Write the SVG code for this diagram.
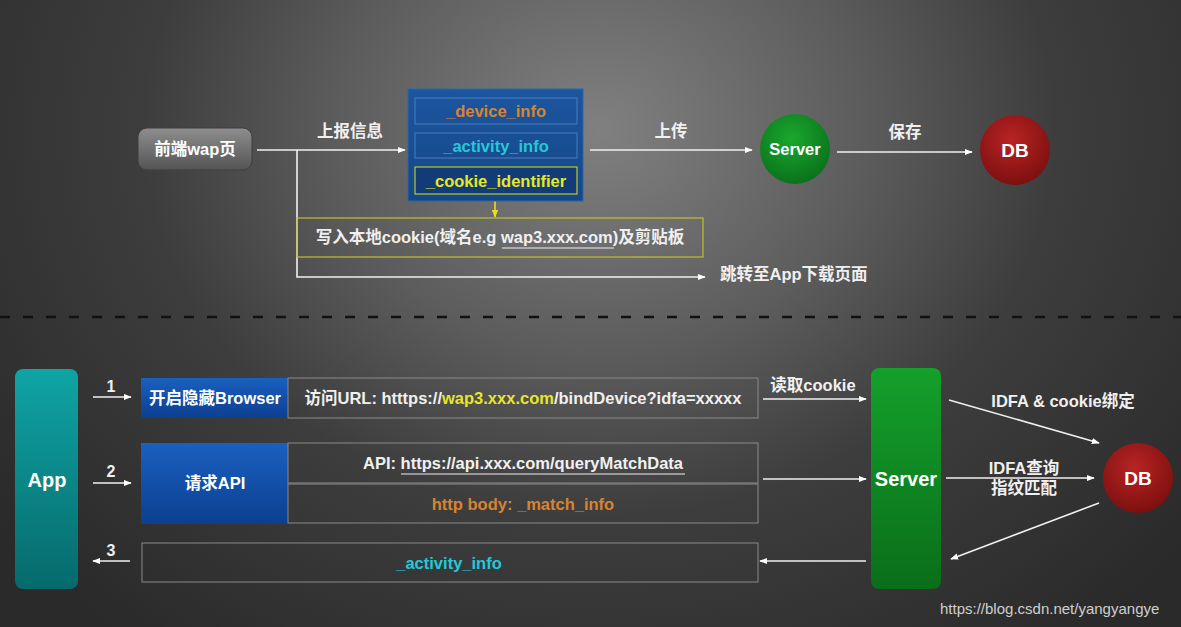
<svg xmlns="http://www.w3.org/2000/svg" width="1181" height="627" viewBox="0 0 1181 627">
<defs>
<radialGradient id="bg" gradientUnits="userSpaceOnUse" cx="600" cy="130" r="760" gradientTransform="translate(600 130) scale(1 0.85) translate(-600 -130)">
<stop offset="0" stop-color="#808080"/>
<stop offset="0.35" stop-color="#5c5c5c"/>
<stop offset="0.6" stop-color="#3d3d3d"/>
<stop offset="1" stop-color="#2a2a2a"/>
</radialGradient>
<linearGradient id="gray" x1="0" y1="0" x2="0" y2="1">
<stop offset="0" stop-color="#8e8e8e"/>
<stop offset="1" stop-color="#545454"/>
</linearGradient>
<linearGradient id="blue" x1="0" y1="0" x2="0" y2="1">
<stop offset="0" stop-color="#1a60c0"/>
<stop offset="1" stop-color="#0c3f90"/>
</linearGradient>
<linearGradient id="bluebox" x1="0" y1="0" x2="0" y2="1">
<stop offset="0" stop-color="#1c56a0"/>
<stop offset="1" stop-color="#154785"/>
</linearGradient>
<linearGradient id="teal" x1="0" y1="0" x2="0" y2="1">
<stop offset="0" stop-color="#10a4a4"/>
<stop offset="1" stop-color="#066a6c"/>
</linearGradient>
<linearGradient id="green" x1="0" y1="0" x2="0" y2="1">
<stop offset="0" stop-color="#14a02a"/>
<stop offset="1" stop-color="#0a6e1a"/>
</linearGradient>
<radialGradient id="gcirc" cx="0.45" cy="0.35" r="0.7">
<stop offset="0" stop-color="#1aa82e"/>
<stop offset="1" stop-color="#0a6e1a"/>
</radialGradient>
<radialGradient id="rcirc" cx="0.45" cy="0.35" r="0.7">
<stop offset="0" stop-color="#b82424"/>
<stop offset="1" stop-color="#7a0e0e"/>
</radialGradient>
<marker id="ah" viewBox="0 0 10 10" refX="9" refY="5" markerWidth="8" markerHeight="8" markerUnits="userSpaceOnUse" orient="auto">
<path d="M0,1 L10,5 L0,9 z" fill="#ffffff"/>
</marker>
<marker id="ahy" viewBox="0 0 10 10" refX="9" refY="5" markerWidth="8" markerHeight="8" markerUnits="userSpaceOnUse" orient="auto">
<path d="M0,1 L10,5 L0,9 z" fill="#e8e020"/>
</marker>
</defs>
<style>
.t{font-family:"Liberation Sans","Noto Sans CJK SC",Arial,sans-serif;font-weight:bold;fill:#ffffff;text-anchor:middle;font-size:16.5px;}
.lbl{fill:#f0f0f0;}
.num{font-size:16px;font-family:"Liberation Sans Narrow","Liberation Sans",Arial,sans-serif;}
.c{stroke:#f0f0f0;stroke-width:1.6;fill:none;marker-end:url(#ah);}
.ob{fill:none;stroke:#8a8a8a;stroke-width:1;}
</style>
<rect x="0" y="0" width="1181" height="627" fill="url(#bg)"/>
<line x1="0" y1="317" x2="1181" y2="317" stroke="#111" stroke-width="2.5" stroke-dasharray="10,13"/>

<g id="connectors">
<line class="c" x1="257" y1="150" x2="405" y2="150"/>
<polyline class="c" points="297,150 297,277 705,277"/>
<line x1="495" y1="194" x2="495" y2="217" stroke="#e8e020" stroke-width="1.6" marker-end="url(#ahy)"/>
<line class="c" x1="590" y1="150" x2="752" y2="150"/>
<line class="c" x1="837" y1="152" x2="972" y2="152"/>
<line class="c" x1="93" y1="397" x2="131" y2="397"/>
<line class="c" x1="93" y1="483" x2="131" y2="483"/>
<line class="c" x1="130" y1="561" x2="93" y2="561"/>
<line class="c" x1="763" y1="399" x2="866" y2="399"/>
<line class="c" x1="763" y1="479" x2="866" y2="479"/>
<line class="c" x1="866" y1="561" x2="760" y2="561"/>
<line class="c" x1="949" y1="400" x2="1099" y2="443"/>
<line class="c" x1="946" y1="478" x2="1094" y2="478"/>
<line class="c" x1="1099" y1="503" x2="951" y2="559"/>
<text class="t lbl" x="350" y="137">上报信息</text>
<text class="t lbl" x="671" y="137">上传</text>
<text class="t lbl" x="905" y="138">保存</text>
<text class="t lbl num" x="111" y="392">1</text>
<text class="t lbl num" x="111" y="477">2</text>
<text class="t lbl num" x="111" y="556">3</text>
<text class="t lbl" x="813" y="391">读取cookie</text>
<text class="t lbl" x="1063" y="407">IDFA &amp; cookie绑定</text>
<text class="t lbl" x="1024" y="474">IDFA查询</text>
<text class="t lbl" x="1024" y="494">指纹匹配</text>
<text class="t lbl" x="720" y="280" style="text-anchor:start">跳转至App下载页面</text>
</g>

<g id="wap">
<rect x="138" y="128" width="114" height="42" rx="9" fill="url(#gray)" stroke="#3e3e3e" stroke-width="1"/>
<text class="t" x="195" y="155">前端wap页</text>
</g>

<g id="info-box">
<rect x="408" y="89" width="175" height="112" fill="url(#bluebox)" stroke="#2a66b0" stroke-width="1"/>
<rect x="415" y="98" width="162" height="26" fill="none" stroke="#4a7cc0" stroke-width="1"/>
<text class="t" x="496" y="117" style="fill:#d68432">_device_info</text>
<rect x="415" y="133" width="162" height="25" fill="none" stroke="#4a7cc0" stroke-width="1"/>
<text class="t" x="496" y="152" style="fill:#25c8d8">_activity_info</text>
<rect x="415" y="167" width="162" height="27" fill="#123c78" stroke="#e0e020" stroke-width="1"/>
<text class="t" x="496" y="187" style="fill:#e8e81e">_cookie_identifier</text>
</g>

<g id="cookie-write">
<rect x="297" y="218" width="406" height="39" fill="none" stroke="#c0c032" stroke-width="1.2"/>
<text class="t" x="500" y="243" style="fill:#f0f0f0">写入本地cookie(域名e.g wap3.xxx.com)及剪贴板</text>
<line x1="502" y1="248" x2="614" y2="248" stroke="#f0f0f0" stroke-width="1"/>
</g>

<g id="server-top">
<circle cx="795" cy="149" r="35" fill="url(#gcirc)"/>
<text class="t" x="795" y="155">Server</text>
</g>

<g id="db-top">
<circle cx="1015" cy="150" r="35" fill="url(#rcirc)"/>
<text class="t" x="1015" y="157" style="font-size:19px">DB</text>
</g>

<g id="app">
<rect x="15" y="369" width="63" height="220" rx="8" fill="url(#teal)"/>
<text class="t" x="47" y="487" style="font-size:20px">App</text>
</g>

<g id="browser">
<rect x="141" y="378" width="147" height="40" fill="url(#blue)"/>
<text class="t" x="215" y="404">开启隐藏Browser</text>
<rect class="ob" x="288" y="378" width="470" height="40"/>
<text class="t" x="523" y="404" style="fill:#f0f0f0">访问URL: htttps://<tspan style="fill:#e6e62a">wap3.xxx.com</tspan>/bindDevice?idfa=xxxxx</text>
</g>

<g id="request-api">
<rect x="141" y="443" width="147" height="81" fill="url(#blue)"/>
<text class="t" x="215" y="489">请求API</text>
<rect class="ob" x="288" y="443" width="470" height="40"/>
<text class="t" x="523" y="469" style="fill:#f0f0f0">API: https://api.xxx.com/queryMatchData</text>
<line x1="401" y1="474" x2="685" y2="474" stroke="#f0f0f0" stroke-width="1"/>
<rect class="ob" x="288" y="484" width="470" height="39"/>
<text class="t" x="523" y="510" style="fill:#d68432">http body: _match_info</text>
</g>

<g id="activity-result">
<rect class="ob" x="142" y="543" width="616" height="39"/>
<text class="t" x="449" y="569" style="fill:#25c8d8">_activity_info</text>
</g>

<g id="server">
<rect x="871" y="368" width="70" height="221" rx="8" fill="url(#green)"/>
<text class="t" x="906" y="486" style="font-size:20px">Server</text>
</g>

<g id="db">
<circle cx="1138" cy="478" r="35" fill="url(#rcirc)"/>
<text class="t" x="1138" y="485" style="font-size:19px">DB</text>
</g>

<text x="940" y="614" font-family="'Liberation Sans',Arial,sans-serif" font-size="15" fill="#cfcfcf">https://blog.csdn.net/yangyangye</text>
</svg>
